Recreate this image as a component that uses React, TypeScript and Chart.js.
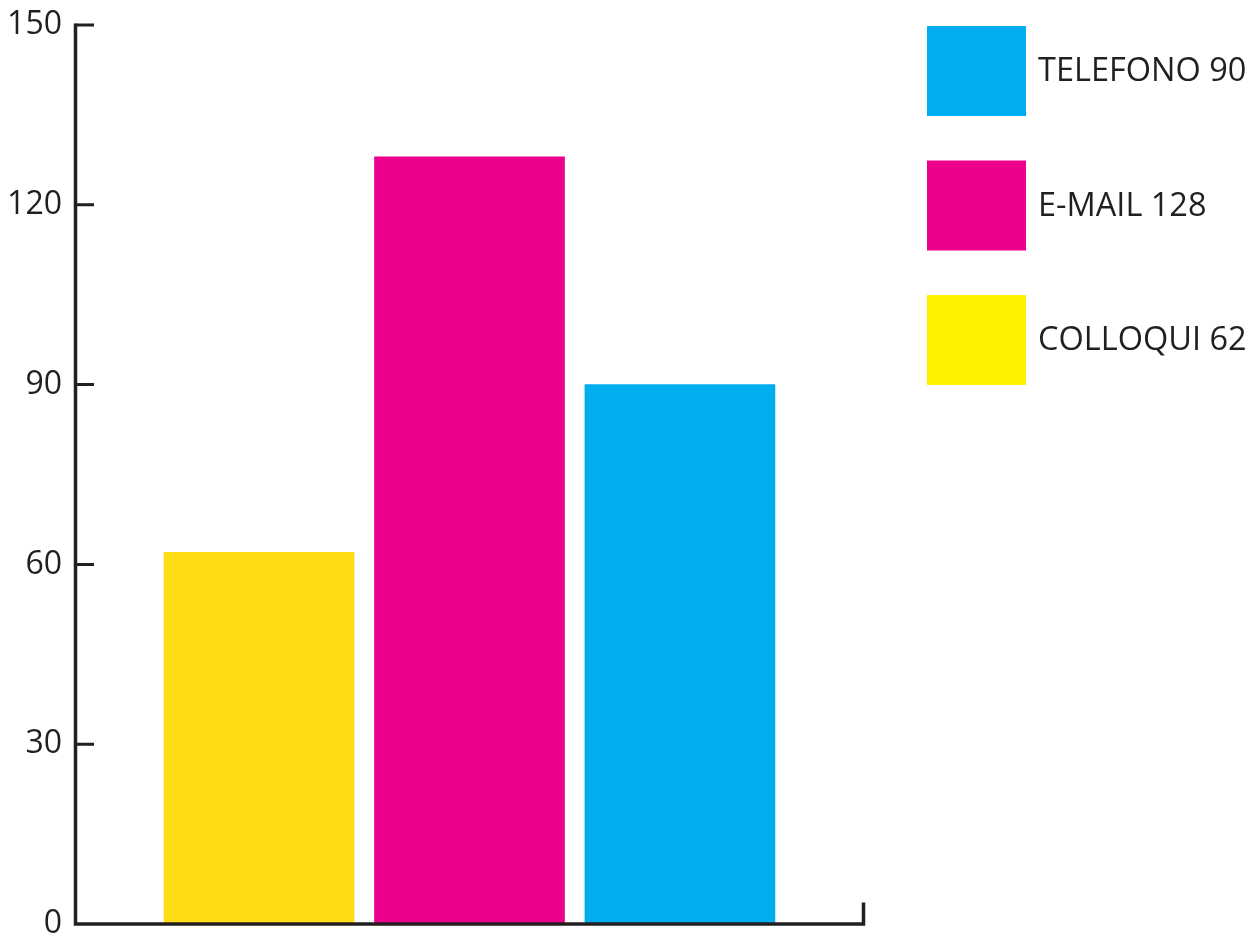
import React, { useEffect, useRef } from "react";
import { Chart, registerables } from "chart.js";

Chart.register(...registerables);

const categories = ["COLLOQUI", "E-MAIL", "TELEFONO"];
const values = [62, 128, 90];
const barColors = ["#FEDD15", "#EC008C", "#00AEEF"];
const legendOrder = [2, 1, 0];
const legendColors = ["#00AEEF", "#EC008C", "#FFF200"];
const yTickValues = [0, 30, 60, 90, 120, 150];

const INK = "#231f20";
const FONT = "'Open Sans', 'Noto Sans', sans-serif";

const frameAndLegend = {
  id: "frameAndLegend",
  afterDatasetsDraw(chart: any) {
    const ctx = chart.ctx;
    const y = chart.scales.y;
    const x = chart.scales.x;
    const left = x.left - 0.5;
    const right = x.right + 0.5;
    const top = y.getPixelForValue(150);
    const bottom = y.getPixelForValue(0);
    ctx.save();
    ctx.strokeStyle = INK;
    ctx.lineCap = "butt";
    // axes frame
    ctx.lineWidth = 3.5;
    ctx.beginPath();
    ctx.moveTo(left, top - 1.5);
    ctx.lineTo(left, bottom + 1.75);
    ctx.moveTo(left - 1.75, bottom);
    ctx.lineTo(right + 1.5, bottom);
    ctx.moveTo(right, bottom + 1.75);
    ctx.lineTo(right, bottom - 21.5);
    ctx.stroke();
    // inward tick marks
    ctx.lineWidth = 3;
    ctx.beginPath();
    yTickValues.forEach((v) => {
      if (v === 0) return;
      const py = y.getPixelForValue(v);
      ctx.moveTo(left, py);
      ctx.lineTo(left + 18.5, py);
    });
    ctx.stroke();
    // legend
    ctx.font = `32.5px ${FONT}`;
    ctx.textBaseline = "middle";
    ctx.textAlign = "left";
    legendOrder.forEach((idx, i) => {
      const bx = 927;
      const by = 26 + i * 134.5;
      ctx.fillStyle = legendColors[i];
      ctx.fillRect(bx, by, 99, 90);
      ctx.fillStyle = INK;
      ctx.fillText(`${categories[idx]} ${values[idx]}`, 1038, by + 46);
    });
    ctx.restore();
  },
};

export default function App() {
  const ref = useRef<HTMLCanvasElement | null>(null);
  useEffect(() => {
    if (!ref.current) return;
    const chart = new Chart(ref.current, {
      type: "bar",
      data: {
        datasets: [
          {
            data: values.map((v, i) => ({ x: i, y: v })),
            backgroundColor: barColors,
            borderWidth: 0,
            barThickness: 190,
          },
        ],
      },
      options: {
        animation: false,
        responsive: false,
        maintainAspectRatio: false,
        layout: { padding: { left: 0, right: 397, top: 25, bottom: 12 } },
        plugins: { legend: { display: false }, tooltip: { enabled: false } },
        scales: {
          x: {
            type: "linear",
            display: false,
            offset: false,
            min: -0.87,
            max: 2.87,
          },
          y: {
            min: 0,
            max: 150,
            afterFit: (s: any) => {
              s.width = 76;
              s.paddingTop = 0;
              s.paddingBottom = 0;
            },
            afterBuildTicks: (s: any) => {
              s.ticks = yTickValues.map((v) => ({ value: v }));
            },
            grid: { display: false, drawTicks: false },
            border: { display: false },
            ticks: {
              padding: 14,
              color: INK,
              font: { family: FONT, size: 32 },
            },
          },
        },
      },
      plugins: [frameAndLegend],
    });
    return () => chart.destroy();
  }, []);
  return (
    <div style={{ position: "fixed", left: 0, top: 0, width: 1260, height: 936, background: "#fff" }}>
      <canvas ref={ref} width={1260} height={936} style={{ display: "block", width: 1260, height: 936 }} />
    </div>
  );
}
